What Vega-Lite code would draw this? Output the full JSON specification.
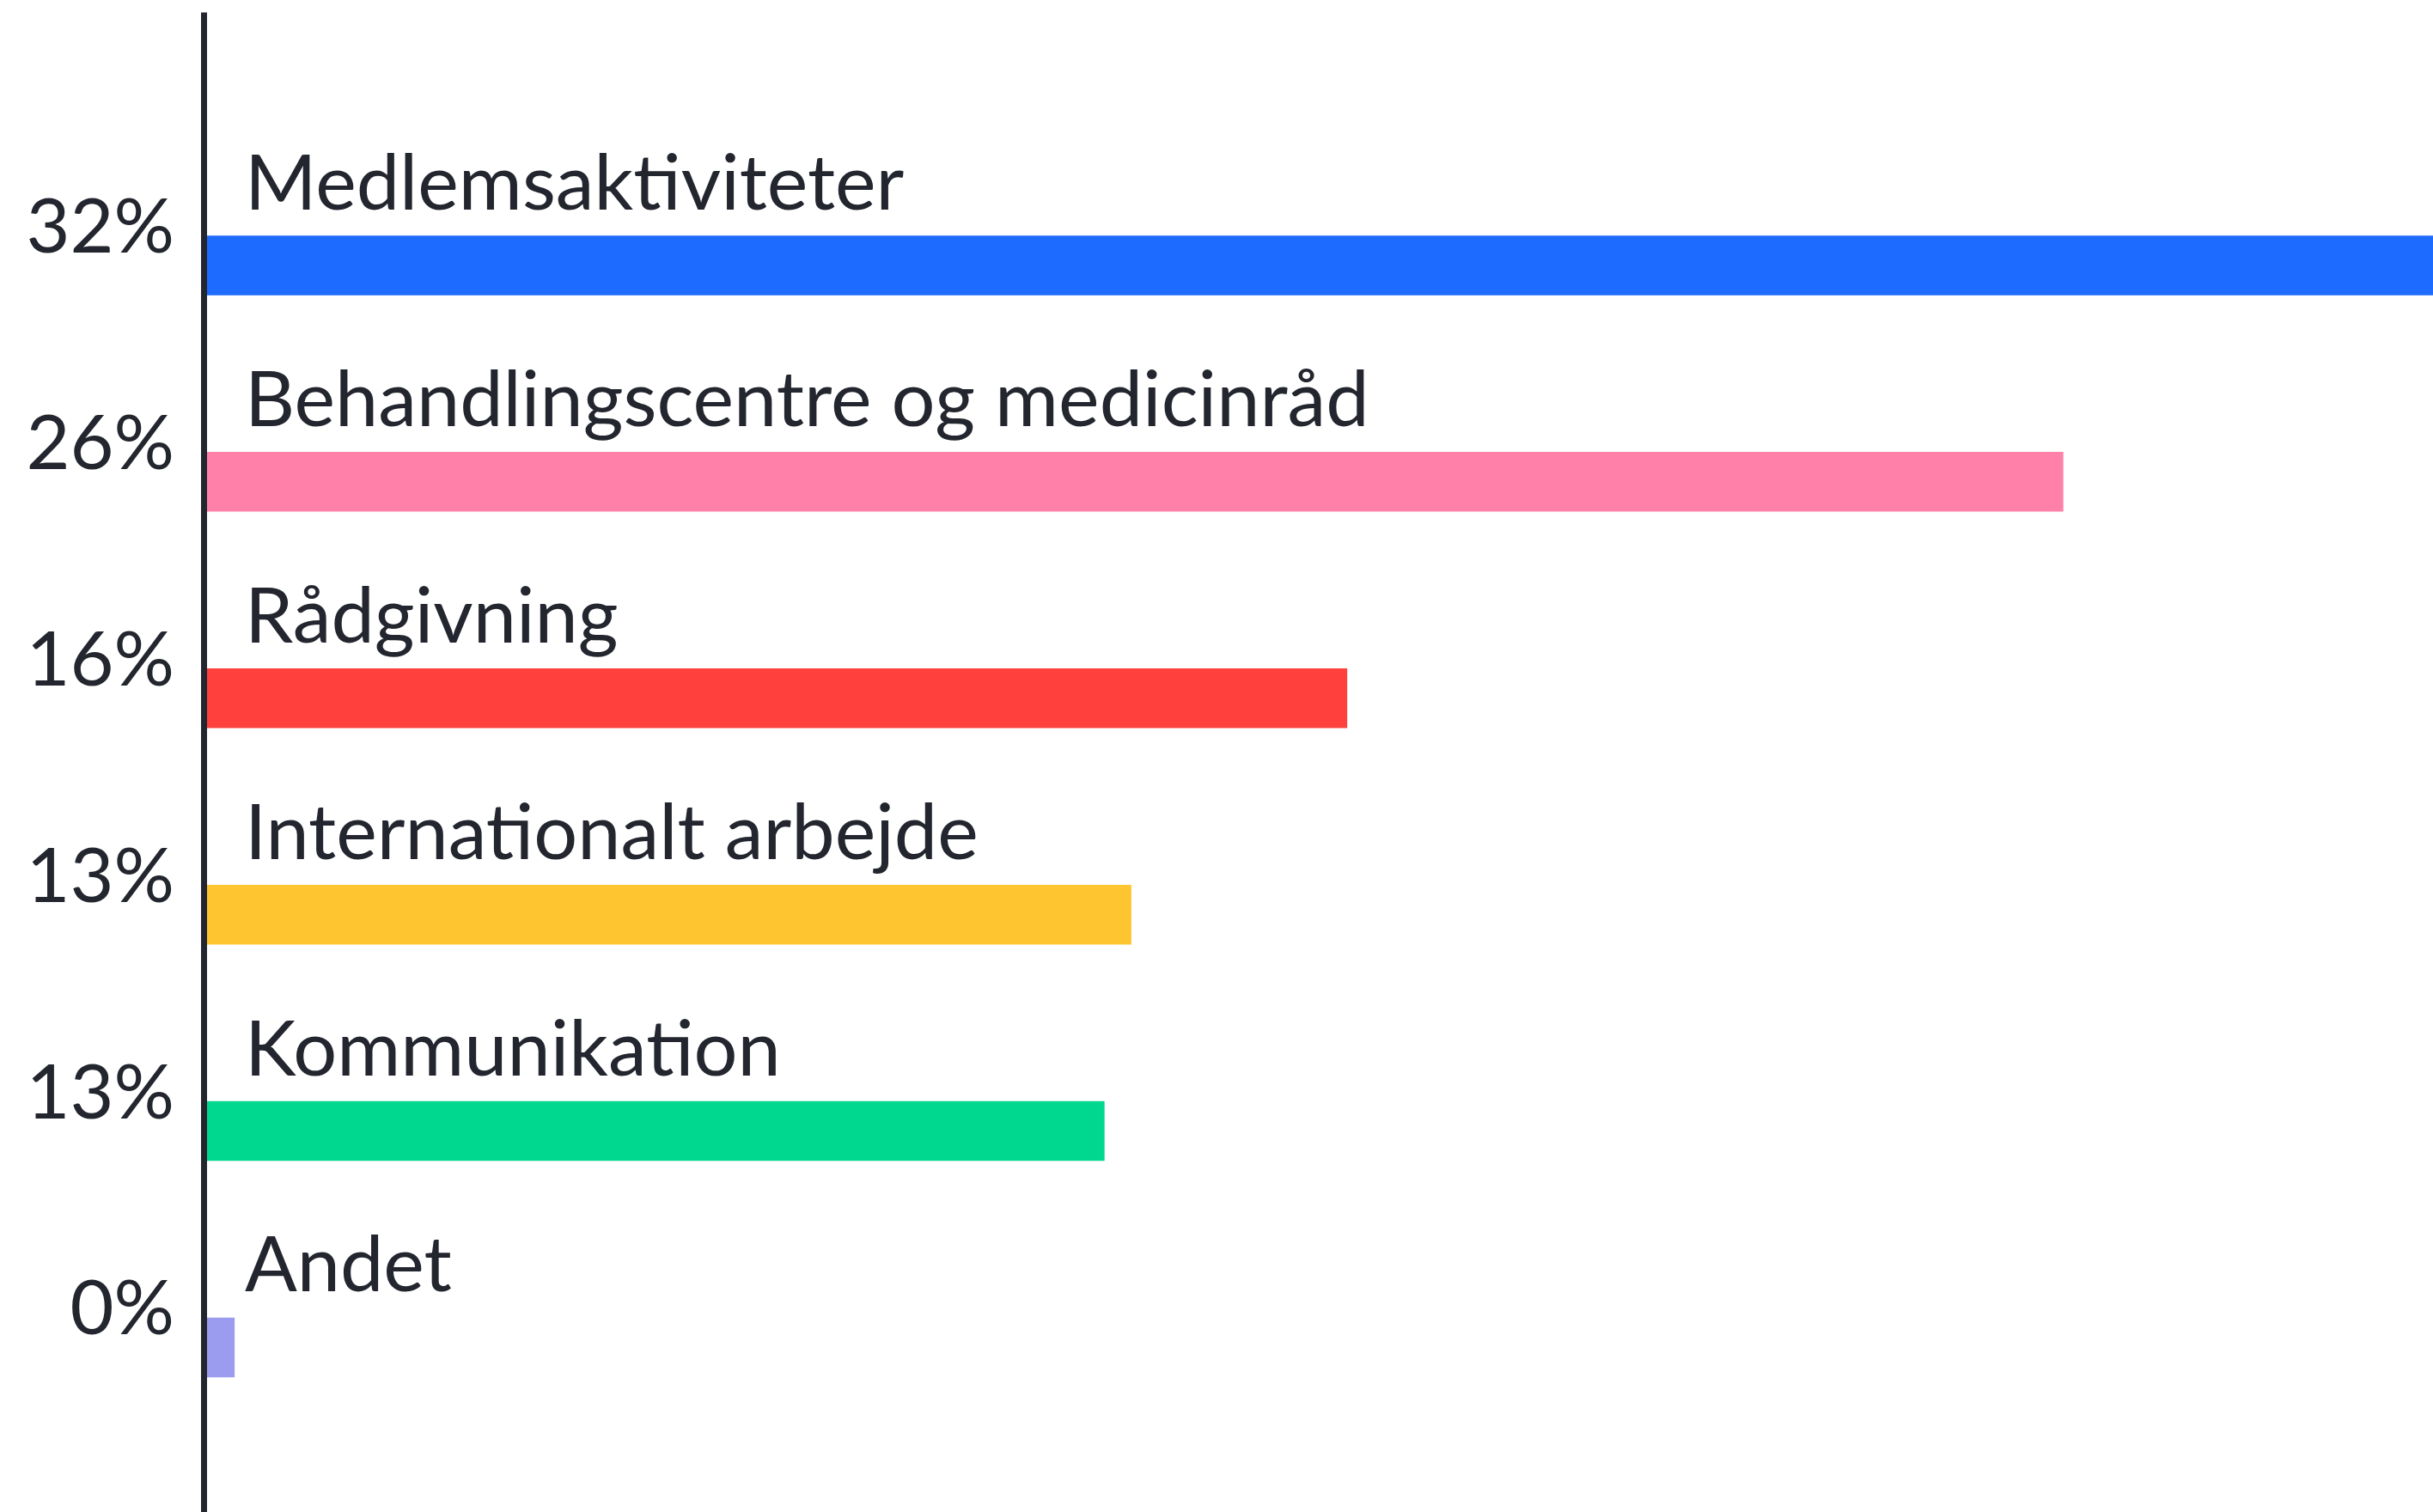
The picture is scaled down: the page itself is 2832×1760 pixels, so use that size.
{
  "$schema": "https://vega.github.io/schema/vega-lite/v6.json",
  "width": 2595,
  "height": 1746,
  "autosize": {"type": "none"},
  "padding": {"left": 237, "top": 14, "right": 0, "bottom": 0},
  "background": "#ffffff",
  "config": {"view": {"stroke": null}},
  "data": {
    "values": [
      {"kategori": "Medlemsaktiviteter", "andel": 0.316},
      {"kategori": "Behandlingscentre og medicinråd", "andel": 0.2636},
      {"kategori": "Rådgivning", "andel": 0.1621},
      {"kategori": "Internationalt arbejde", "andel": 0.1315},
      {"kategori": "Kommunikation", "andel": 0.1277},
      {"kategori": "Andet", "andel": 0.0044}
    ]
  },
  "encoding": {
    "y": {
      "field": "kategori",
      "type": "nominal",
      "sort": null,
      "scale": {"paddingInner": 0.724, "paddingOuter": 0.8277, "align": 0.624},
      "axis": {"title": null, "labels": false, "ticks": false, "grid": false, "domain": true, "domainColor": "#23262e", "domainWidth": 7, "zindex": 1}
    }
  },
  "layer": [
    {
      "mark": {"type": "bar", "cornerRadius": 0},
      "encoding": {
        "x": {
          "field": "andel",
          "type": "quantitative",
          "scale": {"domain": [0, 0.316], "nice": false, "clamp": true},
          "axis": null
        },
        "color": {
          "field": "kategori",
          "type": "nominal",
          "scale": {
            "domain": ["Medlemsaktiviteter", "Behandlingscentre og medicinråd", "Rådgivning", "Internationalt arbejde", "Kommunikation", "Andet"],
            "range": ["#1e6bff", "#ff80a8", "#ff403d", "#ffc531", "#00d88f", "#9b9bf0"]
          },
          "legend": null
        }
      }
    },
    {
      "mark": {"type": "text", "align": "left", "baseline": "alphabetic", "dx": 48, "dy": -65, "font": "Lato", "fontSize": 90, "fontWeight": "normal", "color": "#23262e"},
      "encoding": {
        "x": {"datum": 0, "type": "quantitative"},
        "text": {"field": "kategori"}
      }
    },
    {
      "mark": {"type": "text", "align": "right", "baseline": "alphabetic", "dx": -34, "dy": -15, "font": "Lato", "fontSize": 88, "fontWeight": "normal", "color": "#23262e"},
      "encoding": {
        "x": {"datum": 0, "type": "quantitative"},
        "text": {"field": "andel", "format": ".0%"}
      }
    }
  ]
}
